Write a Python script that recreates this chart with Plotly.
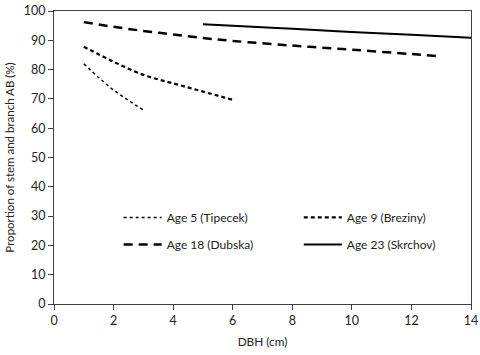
import plotly.graph_objects as go

# Data
age5_x = [1, 1.5, 2, 2.5, 3]
age5_y = [82.0, 77.3, 73.0, 69.5, 66.2]

age9_x = [1, 2, 3, 4, 5, 6]
age9_y = [87.8, 82.7, 78.2, 75.3, 72.5, 69.7]

age18_x = [1, 2, 3, 4, 5, 6, 8, 10, 12, 12.9]
age18_y = [96.2, 94.6, 93.2, 92.0, 90.8, 89.8, 88.2, 86.8, 85.3, 84.6]

age23_x = [5, 6, 8, 10, 12, 14]
age23_y = [95.5, 95.0, 93.9, 92.8, 91.9, 90.9]

names = ["Age 5 (Tipecek)", "Age 9 (Breziny)", "Age 18 (Dubska)", "Age 23 (Skrchov)"]

x_ticks = [0, 2, 4, 6, 8, 10, 12, 14]
y_ticks = [0, 10, 20, 30, 40, 50, 60, 70, 80, 90, 100]

FONT = "Lato"

fig = go.Figure()
fig.add_trace(go.Scatter(x=age5_x, y=age5_y, mode="lines", name=names[0],
                         line=dict(color="black", width=1.5, dash="dot", shape="spline"),
                         legend="legend", legendgroup="a"))
fig.add_trace(go.Scatter(x=age18_x, y=age18_y, mode="lines", name=names[2],
                         line=dict(color="black", width=2.5, dash="9px,6px", shape="spline"),
                         legend="legend", legendgroup="b"))
fig.add_trace(go.Scatter(x=age9_x, y=age9_y, mode="lines", name=names[1],
                         line=dict(color="black", width=2.2, dash="4px,3px", shape="spline"),
                         legend="legend2", legendgroup="c"))
fig.add_trace(go.Scatter(x=age23_x, y=age23_y, mode="lines", name=names[3],
                         line=dict(color="black", width=2, shape="spline"),
                         legend="legend2", legendgroup="d"))

legend_common = dict(bgcolor="rgba(0,0,0,0)", font=dict(family=FONT, size=12, color="#222"),
                     itemwidth=38, tracegroupgap=8, yanchor="top", xanchor="left",
                     itemclick=False, itemdoubleclick=False)
fig.update_layout(
    width=480, height=355,
    margin=dict(l=54, r=9, t=11, b=51, autoexpand=False),
    paper_bgcolor="white", plot_bgcolor="white",
    font=dict(family=FONT, size=12.5, color="#222"),
    showlegend=True,
    legend=dict(x=0.155, y=0.345, **legend_common),
    legend2=dict(x=0.587, y=0.345, **legend_common),
    xaxis=dict(range=[0, 14], tickvals=x_ticks, showgrid=False, zeroline=False,
               showline=True, linecolor="#404040", linewidth=1, mirror=True,
               ticks="outside", ticklen=5, tickcolor="#404040", automargin=False,
               title=dict(text="DBH (cm)", font=dict(size=11.8), standoff=10)),
    yaxis=dict(range=[0, 100], tickvals=y_ticks, showgrid=False, zeroline=False,
               showline=True, linecolor="#404040", linewidth=1, mirror=True,
               ticks="outside", ticklen=5, tickcolor="#404040", automargin=False,
               title=dict(text="Proportion of stem and branch AB (%)", font=dict(size=11.5), standoff=6)),
)

fig.write_html("out.html", config={"displayModeBar": False},
               post_script="document.body.style.margin='0';")
